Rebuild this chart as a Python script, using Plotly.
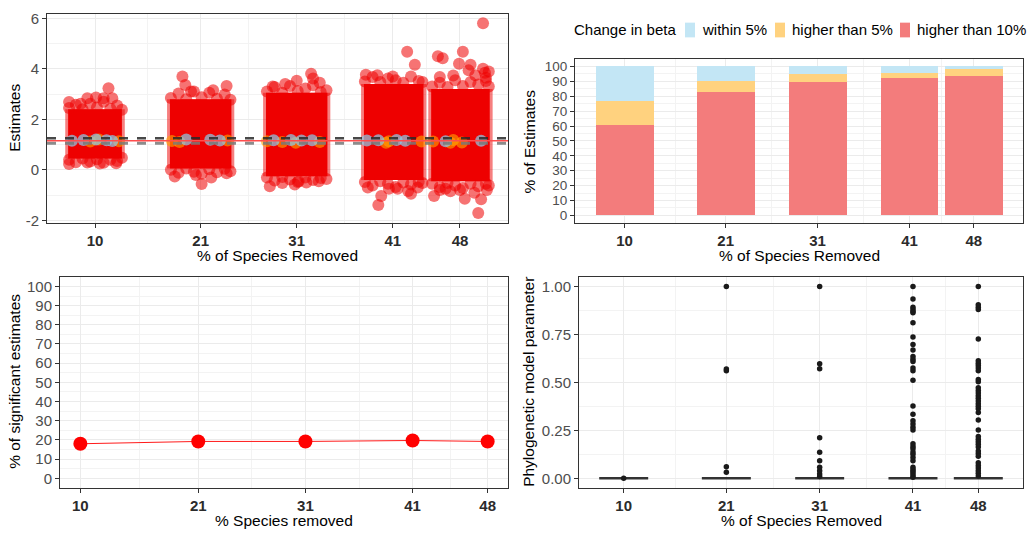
import plotly.graph_objects as go

W, H = 1035, 540
FONT = "Liberation Sans, Arial, sans-serif"

# ---------------- shared categories ----------------
removed = [10, 21, 31, 41, 48]
removed_labels = ["10", "21", "31", "41", "48"]

# ---------------- panel A: jittered estimates ----------------
beta_full = 1.155
beta_upper = 1.25
beta_lower = 1.05
est_ticks = [-2, 0, 2, 4, 6]
est_ticktext = ["-2", "0", "2", "4", "6"]

# extent of the dense block of overlapping estimates in each group
core_x_lo = [7.2, 17.8, 27.8, 38.0, 45.0]
core_x_hi = [12.8, 24.2, 34.2, 44.2, 51.1]
core_y_lo = [0.45, 0.05, -0.25, -0.4, -0.45]
core_y_hi = [2.4, 2.8, 3.05, 3.4, 3.2]
# translucent rim along the sides of each block (x units)
rim = 0.3

# individual estimates at the ragged edges of each block ("higher than 10%")
edge_x = [
    # 10
    7.3, 8.0, 8.7, 9.5, 10.2, 10.9, 11.6, 12.3, 12.8,
    7.3, 8.0, 8.7, 9.5, 10.2, 10.9, 11.6, 12.3, 12.8,
    9.2, 10.1, 10.9, 11.4, 11.8, 7.3, 8.5, 7.3, 9.2, 12.2, 10.5,
    # 21
    17.9, 18.7, 19.5, 20.3, 21.1, 21.9, 22.7, 23.5, 24.1,
    17.9, 18.7, 19.5, 20.3, 21.1, 21.9, 22.7, 23.5, 24.1,
    19.1, 19.4, 23.7, 20.0, 22.3, 21.1, 22.1, 23.7, 18.3, 20.5,
    # 31
    27.9, 28.7, 29.5, 30.3, 31.1, 31.9, 32.7, 33.5, 34.1,
    27.9, 28.7, 29.5, 30.3, 31.1, 31.9, 32.7, 33.5, 34.1,
    32.5, 32.7, 31.0, 28.5, 29.8, 33.4, 28.2, 30.8, 33.3, 29.5, 32.0, 31.2,
    # 41
    38.1, 38.9, 39.7, 40.5, 41.3, 42.1, 42.9, 43.7, 44.1,
    38.1, 38.9, 39.7, 40.5, 41.3, 42.1, 42.9, 43.7, 44.1,
    42.5, 43.3, 38.2, 39.4, 41.0, 39.5, 39.8, 40.6, 38.4, 42.6, 43.6, 42.9, 41.5,
    # 48
    45.1, 45.9, 46.7, 47.5, 48.3, 49.1, 49.9, 50.7, 51.0,
    45.1, 45.9, 46.7, 47.5, 48.3, 49.1, 49.9, 50.7, 51.0,
    50.4, 45.7, 46.2, 48.3, 47.9, 49.1, 50.4, 50.6, 50.7, 47.3, 45.9, 48.9,
    49.6, 51.0, 49.9, 48.5, 45.3, 50.2, 49.5, 45.9, 47.0, 48.0, 50.8, 46.5,
]
edge_y = [
    # 10
    2.45, 2.58, 2.40, 2.62, 2.47, 2.70, 2.42, 2.55, 2.38,
    0.40, 0.30, 0.45, 0.33, 0.42, 0.28, 0.40, 0.35, 0.48,
    2.84, 2.87, 2.84, 3.23, 2.84, 2.69, 2.62, 0.23, 0.29, 0.26, 0.25,
    # 21
    2.85, 3.02, 2.80, 3.10, 2.88, 3.05, 2.82, 2.98, 2.78,
    0.00, -0.12, 0.05, -0.08, -0.15, 0.02, -0.10, 0.04, -0.06,
    3.70, 3.36, 3.32, 3.10, 3.15, -0.56, -0.30, -0.13, -0.26, -0.20,
    # 31
    3.10, 3.28, 3.05, 3.32, 3.12, 3.22, 3.35, 3.08, 3.15,
    -0.30, -0.42, -0.28, -0.38, -0.48, -0.30, -0.40, -0.32, -0.36,
    3.81, 3.62, 3.53, 3.30, 3.40, 3.45, -0.65, -0.58, -0.45, -0.52, -0.50, -0.45,
    # 41
    3.50, 3.68, 3.48, 3.62, 3.55, 3.45, 3.70, 3.52, 3.48,
    -0.48, -0.62, -0.45, -0.55, -0.68, -0.50, -0.58, -0.47, -0.52,
    4.68, 4.16, 3.77, 3.75, 3.70, -1.39, -1.04, -0.75, -0.70, -0.84, -0.70, -0.95, -0.75,
    # 48
    3.30, 3.45, 3.28, 3.55, 3.32, 3.48, 3.38, 3.52, 3.30,
    -0.55, -0.68, -0.52, -0.62, -0.72, -0.55, -0.65, -0.55, -0.62,
    5.81, 4.50, 4.42, 4.68, 4.20, 4.16, 4.00, 3.85, 3.65, 3.74, 3.68, 3.94,
    3.75, 3.90, -1.71, -1.14, -1.04, -1.16, -0.91, -0.80, -0.85, -0.80, -0.80, -0.75,
]

# estimates within 5% of the full-data slope
within5_x = [7.6, 8.8, 10.1, 11.2, 11.8, 19.5, 22.0, 23.0, 28.6, 30.4, 31.5, 32.6,
             38.3, 39.5, 41.4, 42.3, 46.5, 50.2]
within5_y = [1.15, 1.18, 1.20, 1.17, 1.14, 1.20, 1.19, 1.16, 1.17, 1.18, 1.16, 1.17,
             1.16, 1.17, 1.18, 1.15, 1.13, 1.15]
# estimates between 5% and 10% away
higher5_x = [9.5, 10.4, 12.5, 18.0, 23.8, 18.8, 27.9, 29.5, 30.9, 33.4,
             40.3, 40.6, 44.0, 45.2, 47.3, 48.2, 47.0]
higher5_y = [1.12, 1.20, 1.13, 1.14, 1.16, 1.10, 1.13, 1.10, 1.07, 1.10,
             1.07, 1.13, 1.12, 1.12, 1.18, 1.08, 1.07]

# ---------------- panel B: share of estimates per class ----------------
pct_ticks = list(range(0, 101, 10))
pct_within5 = [23.2, 9.6, 4.9, 4.7, 1.8]
pct_higher5 = [16.4, 7.5, 5.7, 2.9, 4.4]
pct_higher10 = [60.4, 82.9, 89.4, 92.4, 93.8]
class_names = ["within 5%", "higher than 5%", "higher than 10%"]

# ---------------- panel C: significant estimates ----------------
pct_significant = [18.0, 19.2, 19.2, 19.7, 19.2]

# ---------------- panel D: phylogenetic parameter ----------------
lambda_ticks = [0, 0.25, 0.5, 0.75, 1.0]
lambda_ticktext = ["0.00", "0.25", "0.50", "0.75", "1.00"]
lambda_zero_count = [999, 994, 989, 965, 965]
lambda_nonzero = {
    10: [0.0005],
    21: [1.0, 0.569, 0.561, 0.060, 0.031],
    31: [1.0, 0.597, 0.571, 0.211, 0.136, 0.091, 0.057, 0.039, 0.022, 0.009],
    41: [1.0, 0.935, 0.892, 0.880, 0.870, 0.863, 0.811, 0.737, 0.698, 0.669,
         0.635, 0.621, 0.609, 0.575, 0.561, 0.511, 0.377, 0.334, 0.300, 0.283,
         0.266, 0.252, 0.180, 0.166, 0.154, 0.137, 0.125, 0.108, 0.091, 0.057,
         0.046, 0.036, 0.026, 0.015, 0.005],
    48: [1.0, 0.904, 0.892, 0.880, 0.726, 0.612, 0.600, 0.588, 0.575, 0.561,
         0.515, 0.503, 0.472, 0.458, 0.444, 0.430, 0.417, 0.403, 0.389, 0.376,
         0.362, 0.343, 0.304, 0.252, 0.218, 0.204, 0.190, 0.177, 0.163, 0.142,
         0.129, 0.115, 0.081, 0.067, 0.053, 0.039, 0.026, 0.012],
}

# ---------------- colours ----------------
RED = "#EE0000"
BAR_RED = "#F37C7C"
BAR_ORANGE = "#FFD27F"
BAR_BLUE = "#C3E6F5"
SKY = "#87CEEB"
ORANGE = "#FFA500"

fig = go.Figure()

# panel A traces
for i in range(len(removed)):
    lo, hi = core_x_lo[i] - rim, core_x_hi[i] + rim
    hx = [lo, hi, hi, lo, lo]
    hy = [core_y_lo[i], core_y_lo[i], core_y_hi[i], core_y_hi[i], core_y_lo[i]]
    fig.add_trace(go.Scatter(x=hx, y=hy, fill="toself", fillcolor="rgba(238,0,0,0.5)",
                             mode="none", hoverinfo="skip", showlegend=False,
                             xaxis="x", yaxis="y"))
    cx = [core_x_lo[i], core_x_hi[i], core_x_hi[i], core_x_lo[i], core_x_lo[i]]
    fig.add_trace(go.Scatter(x=cx, y=hy, fill="toself", fillcolor=RED,
                             mode="none", hoverinfo="skip", showlegend=False,
                             xaxis="x", yaxis="y"))

fig.add_trace(go.Scatter(x=edge_x, y=edge_y, mode="markers",
                         marker=dict(size=12, color=RED, opacity=0.55, line=dict(width=0)),
                         showlegend=False, xaxis="x", yaxis="y"))
fig.add_trace(go.Scatter(x=higher5_x, y=higher5_y, mode="markers",
                         marker=dict(size=12, color=ORANGE, opacity=0.6, line=dict(width=0)),
                         showlegend=False, xaxis="x", yaxis="y"))
fig.add_trace(go.Scatter(x=within5_x, y=within5_y, mode="markers",
                         marker=dict(size=12, color=SKY, opacity=0.7, line=dict(width=0)),
                         showlegend=False, xaxis="x", yaxis="y"))

# panel B traces (stacked)
for vals, col, name in [(pct_higher10, BAR_RED, class_names[2]),
                        (pct_higher5, BAR_ORANGE, class_names[1]),
                        (pct_within5, BAR_BLUE, class_names[0])]:
    fig.add_trace(go.Bar(x=removed, y=vals, width=6.3, name=name,
                         marker=dict(color=col, line=dict(width=0)),
                         showlegend=False, xaxis="x2", yaxis="y2"))

# panel C traces
fig.add_trace(go.Scatter(x=removed, y=pct_significant, mode="lines+markers",
                         line=dict(color="#FF1A1A", width=1),
                         marker=dict(size=14, color="#FF0000"),
                         showlegend=False, xaxis="x3", yaxis="y3"))

# panel D traces
box_x, box_y = [], []
for g, nz in zip(removed, lambda_zero_count):
    vals = [0.0] * nz + lambda_nonzero[g]
    box_x += [g] * len(vals)
    box_y += vals
fig.add_trace(go.Box(x=box_x, y=box_y, width=5.25, boxpoints="outliers",
                     fillcolor="white", line=dict(color="#333333", width=2.5),
                     marker=dict(color="#1A1A1A", size=5.5, line=dict(width=0)),
                     whiskerwidth=0, showlegend=False, xaxis="x4", yaxis="y4"))

# ---------------- axes ----------------
def px_x(v):
    return v / W


def px_y(v):
    return 1 - v / H


GRID = "#EBEBEB"
MINOR = "#F3F3F3"
tickfont_x = dict(family=FONT, size=15, color="#2B2B2B", weight="bold")
tickfont_y = dict(family=FONT, size=15, color="#4D4D4D")
tickfont_y_dense = dict(family=FONT, size=13.5, color="#4D4D4D")


def xaxis(dom, rng, anchor, minor_vals):
    return dict(domain=dom, range=rng, anchor=anchor, tickmode="array",
                tickvals=removed, ticktext=removed_labels, tickfont=tickfont_x,
                showgrid=True, gridcolor=GRID, gridwidth=1.1, zeroline=False,
                showline=True, mirror=True, linecolor="#333333", linewidth=1,
                ticks="outside", ticklen=4, tickcolor="#333333",
                minor=dict(tickmode="array", tickvals=minor_vals, showgrid=True,
                           gridcolor=MINOR, gridwidth=1, ticks=""))


def yaxis(dom, rng, anchor, tv, tt, minor_vals, font=tickfont_y):
    return dict(domain=dom, range=rng, anchor=anchor, tickmode="array",
                tickvals=tv, ticktext=tt, tickfont=font,
                showgrid=True, gridcolor=GRID, gridwidth=1.1, zeroline=False,
                showline=True, mirror=True, linecolor="#333333", linewidth=1,
                ticks="outside", ticklen=4, tickcolor="#333333",
                minor=dict(tickmode="array", tickvals=minor_vals, showgrid=True,
                           gridcolor=MINOR, gridwidth=1, ticks=""))


mid_x = [15.5, 26, 36, 44.5]
pct_minor = [v + 5 for v in pct_ticks[:-1]]

fig.update_layout(
    xaxis=xaxis([px_x(47), px_x(508)], [5.0, 53.0], "y", mid_x),
    yaxis=yaxis([px_y(223), px_y(10)], [-2.1, 6.18], "x", est_ticks, est_ticktext,
                [-1, 1, 3, 5]),
    xaxis2=xaxis([px_x(575), px_x(1023)], [4.6, 53.35], "y2", mid_x),
    yaxis2=yaxis([px_y(223), px_y(56)], [-5, 105], "x2", pct_ticks,
                 [str(v) for v in pct_ticks], pct_minor, tickfont_y_dense),
    xaxis3=xaxis([px_x(60), px_x(508)], [8.1, 49.9], "y3", mid_x),
    yaxis3=yaxis([px_y(493), px_y(278)], [-5, 105], "x3", pct_ticks,
                 [str(v) for v in pct_ticks], pct_minor),
    xaxis4=xaxis([px_x(579), px_x(1023)], [5.21, 52.79], "y4", mid_x),
    yaxis4=yaxis([px_y(493), px_y(278)], [-0.05, 1.05], "x4", lambda_ticks,
                 lambda_ticktext, [0.125, 0.375, 0.625, 0.875]),
    barmode="stack",
    width=W, height=H,
    margin=dict(l=0, r=0, t=0, b=0),
    paper_bgcolor="white", plot_bgcolor="white",
    font=dict(family=FONT, color="black"),
    showlegend=False,
)

# reference lines for the full-data slope
shapes = []
for yv, col, w, dash in [(beta_lower, "rgba(120,120,120,0.85)", 3, "dash"),
                         (beta_full, "#FF4D4D", 1.5, "solid"),
                         (beta_upper, "rgba(40,40,40,0.85)", 2.5, "dash")]:
    shapes.append(dict(type="line", xref="x domain", yref="y", x0=0, x1=1,
                       y0=yv, y1=yv, line=dict(color=col, width=w, dash=dash),
                       layer="above"))

# legend keys for panel B
key_specs = [(685, BAR_BLUE), (775, BAR_ORANGE), (900, BAR_RED)]
for kx, col in key_specs:
    shapes.append(dict(type="rect", xref="paper", yref="paper",
                       x0=px_x(kx), x1=px_x(kx + 10), y0=px_y(34), y1=px_y(19),
                       fillcolor=col, line=dict(width=0)))
fig.update_layout(shapes=shapes)

title_font = dict(family=FONT, size=15.5, color="black")
ann = []


def text(x, y, s, angle=0, anchor="center", font=title_font):
    ann.append(dict(x=px_x(x), y=px_y(y), xref="paper", yref="paper", text=s,
                    showarrow=False, textangle=angle, xanchor=anchor,
                    yanchor="middle", font=font))


text(277, 256, "% of Species Removed")
text(15, 116, "Estimates", -90)
text(799, 256, "% of Species Removed")
text(529, 140, "% of Estimates", -90)
text(284, 526, "% Species removed")
text(15, 385, "% of significant estimates", -90)
text(801, 526, "% of Species Removed")
text(529, 385, "Phylogenetic model parameter", -90)

legend_font = dict(family=FONT, size=15, color="black")
text(572, 26, "Change in beta", anchor="left", font=legend_font)
text(700, 26, class_names[0], anchor="left", font=legend_font)
text(790, 26, class_names[1], anchor="left", font=legend_font)
text(915, 26, class_names[2], anchor="left", font=legend_font)
fig.update_layout(annotations=ann)

fig.write_html("out.html")
